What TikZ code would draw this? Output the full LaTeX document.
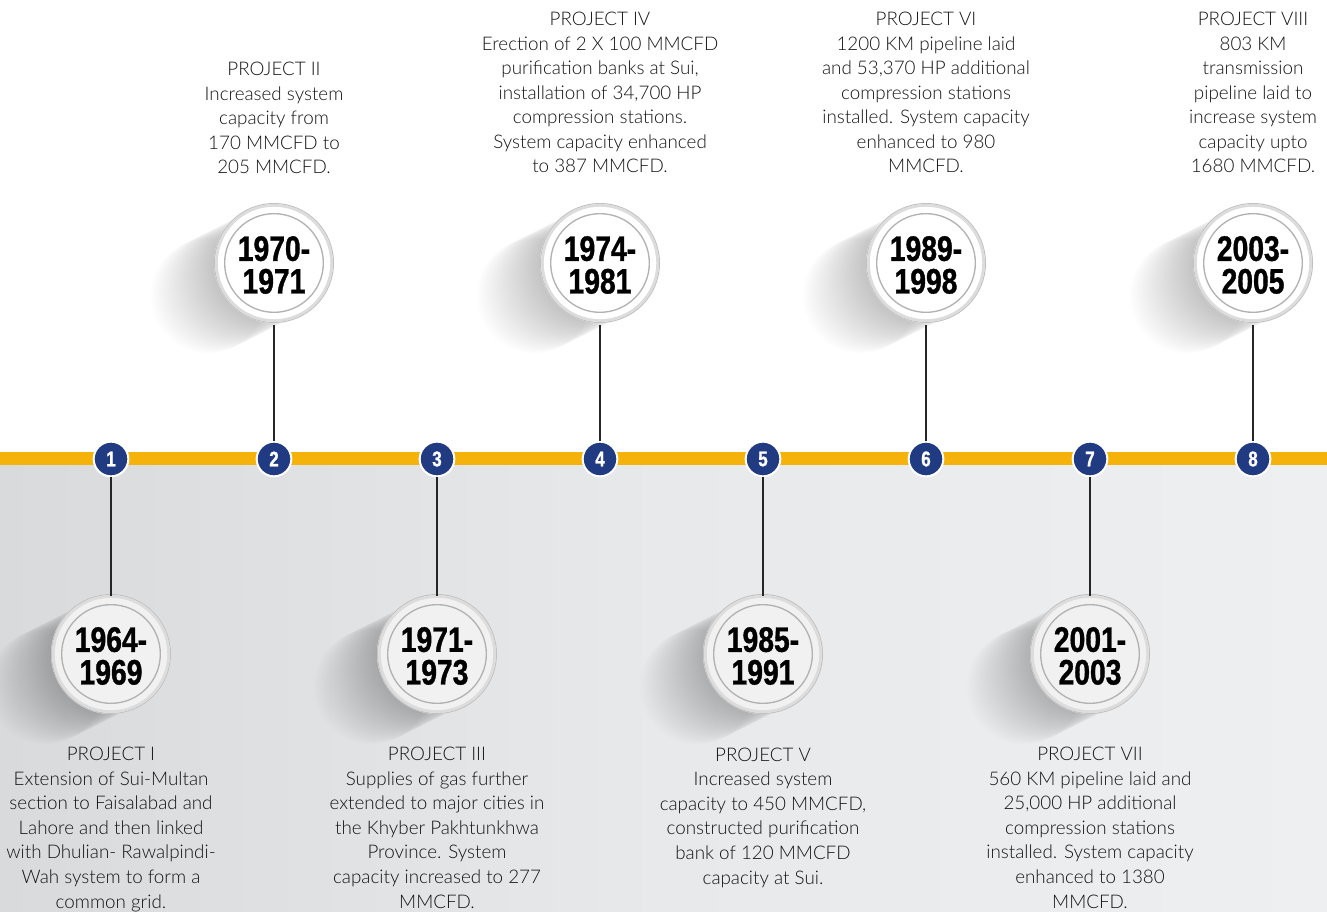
\documentclass[tikz,border=0pt]{standalone}
\usepackage{fontspec}
\IfFontExistsTF{Lato Light}{\setmainfont{Lato Light}}{\setmainfont{Lato}}
\newfontfamily\yearfont{Liberation Sans}[FakeStretch=0.8,FakeBold=1]

\definecolor{bandyellow}{HTML}{F5B20A}
\definecolor{navy}{HTML}{213B83}
\definecolor{bgleft}{HTML}{D9DADC}
\definecolor{bgmid}{HTML}{E8E9EA}
\definecolor{bgright}{HTML}{EEEFF0}
\definecolor{txt}{HTML}{141414}
\definecolor{rimdark}{HTML}{C2C2C2}
\definecolor{rimlight}{HTML}{DCDCDC}
\definecolor{ring}{HTML}{B2B2B2}
\definecolor{lowfill}{HTML}{F1F1F1}

% soft cast shadow sweeping to the lower left of a year disc
\newcommand\castshadow[2]{%
  \foreach \k in {1,...,30}{%
    \fill[black,fill opacity=0.009] ({#1-2.2*\k},{#2+1.1*\k}) circle[radius=43pt];}}
% the year disc itself: body, rim and inner ring
\newcommand\yeardisc[3]{%
  \fill[#3] (#1,#2) circle[radius=45pt];
  \draw[rimdark, line width=0.8pt] (#1,#2) circle[radius=44.6pt];
  \draw[rimlight, line width=2pt] (#1,#2) circle[radius=43.2pt];
  \draw[ring, line width=1pt] (#1,#2) circle[radius=37pt];}

\begin{document}
\begin{tikzpicture}[x=0.75pt,y=-0.75pt,
  yearnode/.style={circle, minimum size=90pt, inner sep=0pt, align=center,
    font=\yearfont\bfseries\fontsize{26.5}{24.5}\selectfont, text=black},
  dotnode/.style={circle, fill=navy, draw=white, line width=1.5pt,
    minimum size=26pt, inner sep=0pt, text=white,
    font=\yearfont\bfseries\fontsize{16}{16}\selectfont},
  conn/.style={draw=black!85, line width=1.1pt},
  desc/.style={align=center, inner sep=0pt, text=txt,
    font=\fontsize{14.1}{18.4}\selectfont, anchor=base}]

\useasboundingbox (0,0) rectangle (1327,912);
\fill[white] (0,0) rectangle (1327,912);
\shade[left color=bgleft, right color=bgright, middle color=bgmid] (0,464) rectangle (1327,912);
\fill[bandyellow] (0,452) rectangle (1327,465);

% discs above the band
\foreach \x in {274,600,926,1253}{\castshadow{\x}{263}}
\foreach \x in {274,600,926,1253}{\yeardisc{\x}{263}{white}}
% discs below the band
\foreach \x in {111,437,763,1090}{\castshadow{\x}{654}}
\foreach \x in {111,437,763,1090}{\yeardisc{\x}{654}{lowfill}}

% year labels
\node[yearnode] (y1) at (111,656) {1964-\\1969};
\node[yearnode] (y2) at (274,265) {1970-\\1971};
\node[yearnode] (y3) at (437,656) {1971-\\1973};
\node[yearnode] (y4) at (600,265) {1974-\\1981};
\node[yearnode] (y5) at (763,656) {1985-\\1991};
\node[yearnode] (y6) at (926,265) {1989-\\1998};
\node[yearnode] (y7) at (1090,656) {2001-\\2003};
\node[yearnode] (y8) at (1253,265) {2003-\\2005};

% numbered markers on the band
\node[dotnode] (d1) at (111,459) {1};
\node[dotnode] (d2) at (274,459) {2};
\node[dotnode] (d3) at (437,459) {3};
\node[dotnode] (d4) at (600,459) {4};
\node[dotnode] (d5) at (763,459) {5};
\node[dotnode] (d6) at (926,459) {6};
\node[dotnode] (d7) at (1090,459) {7};
\node[dotnode] (d8) at (1253,459) {8};

% stems
\foreach \i in {1,...,8}{\draw[conn] (y\i) -- (d\i);}

% descriptions (placed by the baseline of their last line)
\node[desc] (p1) at (111,908) {PROJECT I\\Extension of Sui-Multan\\section to Faisalabad and\\Lahore and then linked\\with Dhulian- Rawalpindi-\\Wah system to form a\\common grid.};
\node[desc] (p2) at (274,174) {PROJECT II\\Increased system\\capacity from\\170 MMCFD to\\205 MMCFD.};
\node[desc] (p3) at (437,908) {PROJECT III\\Supplies of gas further\\extended to major cities in\\the Khyber Pakhtunkhwa\\Province. System\\capacity increased to 277\\MMCFD.};
\node[desc] (p4) at (600,173) {PROJECT IV\\Erection of 2 X 100 MMCFD\\purification banks at Sui,\\installation of 34,700 HP\\compression stations.\\System capacity enhanced\\to 387 MMCFD.};
\node[desc] (p5) at (763,884) {PROJECT V\\Increased system\\capacity to 450 MMCFD,\\constructed purification\\bank of 120 MMCFD\\capacity at Sui.};
\node[desc] (p6) at (926,173) {PROJECT VI\\1200 KM pipeline laid\\and 53,370 HP additional\\compression stations\\installed. System capacity\\enhanced to 980\\MMCFD.};
\node[desc] (p7) at (1090,908) {PROJECT VII\\560 KM pipeline laid and\\25,000 HP additional\\compression stations\\installed. System capacity\\enhanced to 1380\\MMCFD.};
\node[desc] (p8) at (1253,173) {PROJECT VIII\\803 KM\\transmission\\pipeline laid to\\increase system\\capacity upto\\1680 MMCFD.};
\end{tikzpicture}
\end{document}
